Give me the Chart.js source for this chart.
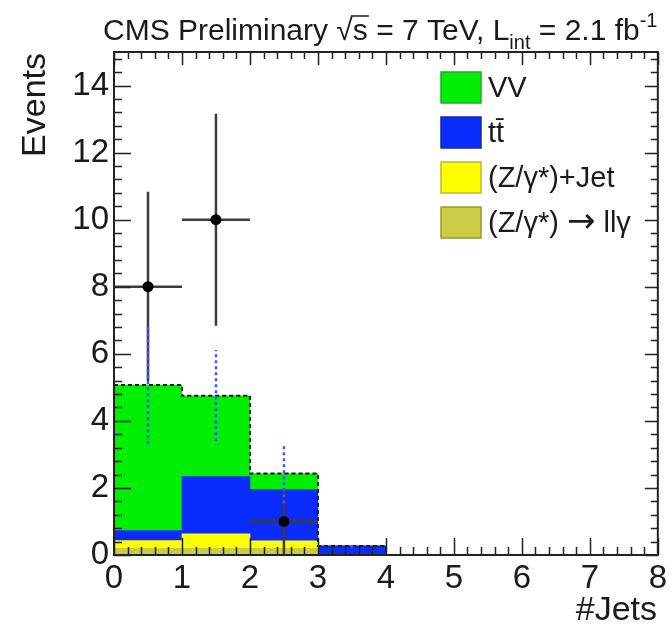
<!DOCTYPE html>
<html>
<head>
<meta charset="utf-8">
<script src="https://cdn.jsdelivr.net/npm/chart.js@4.4.1/dist/chart.umd.min.js"></script>
<style>
  html, body { margin: 0; padding: 0; background: #ffffff; }
  canvas { display: block; }
</style>
</head>
<body>
<canvas id="jets" width="671" height="626"></canvas>
<script>
// Jet-multiplicity bins (bin centres; each bin is one unit wide)
const binCentres = [0.5, 1.5, 2.5, 3.5];
const binEdges = [0, 1, 2, 3, 4];

// Expected events per bin, listed from the bottom of the stack upwards
const zToLLGamma = [0.20, 0.20, 0.20, 0.00];
const zGammaJet  = [0.23, 0.43, 0.22, 0.00];
const ttbar      = [0.30, 1.71, 1.53, 0.27];
const diboson    = [4.34, 2.41, 0.48, 0.00];

// Statistical uncertainty on the summed expectation
const mcUncertainty = [1.77, 1.36, 0.89, 0.06];

// Observed events with their uncertainties
const dataCentres = [0.5, 1.5, 2.5];
const dataEvents  = [8, 10, 1];
const dataErrors  = [2.83, 3.16, 1.0];

// Axis ticks
const xTickValues = [0, 1, 2, 3, 4, 5, 6, 7, 8];
const yTickValues = [0, 2, 4, 6, 8, 10, 12, 14];

const FONT = '"Liberation Sans", Arial, Helvetica, sans-serif';
const ARROW_FONT = '"DejaVu Sans", sans-serif';

const stackTotal = binCentres.map((_, i) => zToLLGamma[i] + zGammaJet[i] + ttbar[i] + diboson[i]);
// Outline of the summed histogram: one point per lower bin edge, closing at zero
const outlinePoints = binEdges.map((e, i) => ({ x: e, y: i < stackTotal.length ? stackTotal[i] : 0 }));

const toXY = (xs, ys) => xs.map((x, i) => ({ x: x, y: ys[i] }));

const barStyle = { type: 'bar', stack: 'mc', order: 2, borderWidth: 0, barPercentage: 1.0, categoryPercentage: 1.0 };

const datasets = [
  Object.assign({ label: '(Z/\u03b3*) \u2192 ll\u03b3', data: toXY(binCentres, zToLLGamma), backgroundColor: '#cccc44', legendBorder: '#999933' }, barStyle),
  Object.assign({ label: '(Z/\u03b3*)+Jet', data: toXY(binCentres, zGammaJet), backgroundColor: '#ffff00', legendBorder: '#bbbb22' }, barStyle),
  Object.assign({ label: 't\u0074\u0304', data: toXY(binCentres, ttbar), backgroundColor: '#0a2cff', legendBorder: '#1a2a99' }, barStyle),
  Object.assign({ label: 'VV', data: toXY(binCentres, diboson), backgroundColor: '#00ee00', legendBorder: '#22aa22' }, barStyle),
  {
    type: 'line', label: 'total', stack: 'outline', order: 1, data: outlinePoints,
    stepped: true, borderColor: '#1a1a1a', borderWidth: 2, borderDash: [4, 3],
    pointRadius: 0, fill: false
  },
  {
    type: 'line', label: 'Data', stack: 'data', order: 0, data: toXY(dataCentres, dataEvents),
    showLine: false, pointRadius: 5.5, pointBackgroundColor: '#000000', pointBorderColor: '#000000',
    pointBorderWidth: 0
  }
];

const DATA_INDEX = 5;
const LEGEND_ORDER = [3, 2, 1, 0];

// Error bars for data and for the summed expectation, drawn under the data markers
const errorBars = {
  id: 'errorBars',
  beforeDatasetDraw(chart, args) {
    if (args.index !== DATA_INDEX) return;
    const ctx = chart.ctx, xs = chart.scales.x, ys = chart.scales.y;
    ctx.save();
    ctx.strokeStyle = '#3c3c3c';
    ctx.lineWidth = 2.5;
    dataCentres.forEach((c, i) => {
      const px = xs.getPixelForValue(c);
      const py = ys.getPixelForValue(dataEvents[i]);
      ctx.beginPath();
      ctx.moveTo(px, ys.getPixelForValue(Math.max(0, dataEvents[i] - dataErrors[i])));
      ctx.lineTo(px, ys.getPixelForValue(dataEvents[i] + dataErrors[i]));
      ctx.moveTo(xs.getPixelForValue(c - 0.5), py);
      ctx.lineTo(xs.getPixelForValue(c + 0.5), py);
      ctx.stroke();
    });
    ctx.strokeStyle = '#3a58ff';
    ctx.lineWidth = 2.5;
    ctx.setLineDash([3, 3]);
    binCentres.forEach((c, i) => {
      const px = xs.getPixelForValue(c);
      ctx.beginPath();
      ctx.moveTo(px, ys.getPixelForValue(stackTotal[i] - mcUncertainty[i]));
      ctx.lineTo(px, ys.getPixelForValue(stackTotal[i] + mcUncertainty[i]));
      ctx.stroke();
    });
    ctx.restore();
  }
};

// Draws a legend label, giving the arrow glyph a font where it is full-sized
function drawLabel(ctx, text, x, y) {
  text.split(/(\u2192)/).forEach(part => {
    if (!part) return;
    ctx.font = part === '\u2192' ? '34px ' + ARROW_FONT : '29px ' + FONT;
    ctx.fillText(part, x, y);
    x += ctx.measureText(part).width;
  });
}

// Frame, inward ticks, legend and text labels
const decorations = {
  id: 'decorations',
  afterDraw(chart) {
    const ctx = chart.ctx, xs = chart.scales.x, ys = chart.scales.y, a = chart.chartArea;
    ctx.save();

    // ticks on all four sides, pointing into the frame
    ctx.strokeStyle = '#222222';
    ctx.lineWidth = 1.5;
    ctx.beginPath();
    for (let i = 0; i <= 40; i++) {
      const px = Math.round(xs.getPixelForValue(i * 0.2)) + 0.5;
      const major = i % 5 === 0;
      ctx.moveTo(px, a.bottom); ctx.lineTo(px, a.bottom - (major ? 17 : 8));
      ctx.moveTo(px, a.top); ctx.lineTo(px, a.top + (major ? 13 : 7));
    }
    for (let i = 0; i <= 37; i++) {
      const py = Math.round(ys.getPixelForValue(i * 0.4)) + 0.5;
      const major = i % 5 === 0;
      ctx.moveTo(a.left, py); ctx.lineTo(a.left + (major ? 17 : 8), py);
      ctx.moveTo(a.right, py); ctx.lineTo(a.right - (major ? 13 : 7), py);
    }
    ctx.stroke();

    // frame
    ctx.lineWidth = 2;
    ctx.strokeStyle = '#222222';
    ctx.strokeRect(a.left, a.top, a.right - a.left, a.bottom - a.top);

    // legend
    ctx.textBaseline = 'middle';
    ctx.textAlign = 'left';
    LEGEND_ORDER.forEach((di, k) => {
      const ds = chart.data.datasets[di];
      const bx = 441, by = 72 + k * 45, bw = 40, bh = 31;
      ctx.fillStyle = ds.backgroundColor;
      ctx.fillRect(bx, by, bw, bh);
      ctx.lineWidth = 1.5;
      ctx.strokeStyle = ds.legendBorder;
      ctx.strokeRect(bx, by, bw, bh);
      ctx.fillStyle = '#1a1a1a';
      drawLabel(ctx, ds.label, 488, by + bh / 2 + 1);
    });

    // axis titles
    ctx.fillStyle = '#1a1a1a';
    ctx.font = '34px ' + FONT;
    ctx.textAlign = 'right';
    ctx.textBaseline = 'alphabetic';
    ctx.fillText('#Jets', 657, 620);
    ctx.save();
    ctx.translate(45, 53);
    ctx.rotate(-Math.PI / 2);
    ctx.fillText('Events', 0, 0);
    ctx.restore();

    // header
    ctx.textAlign = 'left';
    let x = 103;
    const y = 40;
    const put = (txt, size, dy) => {
      ctx.font = size + 'px ' + FONT;
      ctx.fillText(txt, x, y + dy);
      const w = ctx.measureText(txt).width;
      x += w;
      return w;
    };
    put('CMS Preliminary ', 30, 0);
    put('\u221a', 30, 0);
    const sx = x;
    const sw = put('s', 30, 0);
    ctx.lineWidth = 1.5;
    ctx.strokeStyle = '#1a1a1a';
    ctx.beginPath();
    ctx.moveTo(sx - 2, y - 24);
    ctx.lineTo(sx + sw + 1, y - 24);
    ctx.stroke();
    put(' = 7 TeV, L', 30, 0);
    put('int', 20, 9);
    put(' = 2.1 fb', 30, 0);
    put('-1', 20, -13);

    ctx.restore();
  }
};

new Chart(document.getElementById('jets'), {
  type: 'bar',
  data: { datasets: datasets },
  options: {
    responsive: false,
    animation: false,
    events: [],
    layout: { padding: { top: 52, right: 12, left: 0, bottom: 0 } },
    plugins: { legend: { display: false }, tooltip: { enabled: false }, title: { display: false } },
    scales: {
      x: {
        type: 'linear', min: 0, max: 8, offset: false, stacked: true,
        grid: { display: false, drawTicks: false, offset: false },
        border: { display: false },
        afterBuildTicks: (s) => { s.ticks = xTickValues.map(v => ({ value: v })); },
        afterFit: (s) => { s.height = 71; },
        ticks: { color: '#1a1a1a', padding: 4, font: { family: FONT, size: 33 }, maxRotation: 0, autoSkip: false }
      },
      y: {
        type: 'linear', min: 0, max: 15, stacked: true,
        grid: { display: false, drawTicks: false },
        border: { display: false },
        afterBuildTicks: (s) => { s.ticks = yTickValues.map(v => ({ value: v })); },
        afterFit: (s) => { s.width = 114; },
        ticks: { color: '#1a1a1a', padding: 5, font: { family: FONT, size: 33 } }
      }
    }
  },
  plugins: [errorBars, decorations]
});
</script>
</body>
</html>
